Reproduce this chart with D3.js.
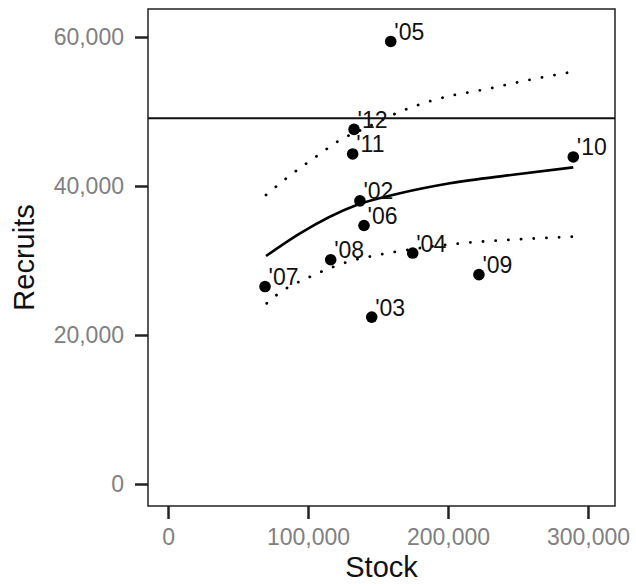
<!DOCTYPE html>
<html>
<head>
<meta charset="utf-8">
<script src="https://cdn.jsdelivr.net/npm/d3@7"></script>
<style>
body { margin: 0; background: #fff; }
text { font-family: "Liberation Sans", Arial, sans-serif; }
</style>
</head>
<body>
<div id="cont"></div>
<script>
// data
var years = ["'02", "'03", "'04", "'05", "'06", "'07", "'08", "'09", "'10", "'11", "'12"];
var stock = [137100, 145500, 174800, 159100, 140000, 69300, 116200, 222100, 289500, 131900, 132900];
var recruits = [38000, 22400, 31000, 59400, 34700, 26500, 30100, 28100, 43900, 44300, 47600];

// fitted curve and bounds
var fitS = [70000, 94300, 134800, 165700, 201400, 245000, 289500];
var fitR = [30600, 33650, 37450, 39020, 40360, 41480, 42500];
var upperS = [70000, 84800, 107400, 122900, 140700, 165700, 191900, 230000, 257900, 288000];
var upperR = [38800, 41070, 44160, 46170, 47750, 49970, 51640, 53110, 54230, 55300];
var lowerS = [70500, 77600, 102600, 128800, 156600, 203800, 251400, 289500];
var lowerR = [24250, 25370, 27920, 29840, 30970, 32210, 32850, 33200];
var refLine = 49100;

var xTicks = [0, 100000, 200000, 300000];
var yTicks = [0, 20000, 40000, 60000];

var W = 636, H = 584;
var L = 148, R = 615, T = 9, B = 506;

var svg = d3.select("#cont").append("svg").attr("width", W).attr("height", H);

var x = d3.scaleLinear().domain([-14300, 319300]).range([L, R]);
var y = d3.scaleLinear().domain([-2953, 63758]).range([B, T]);
var fmt = d3.format(",");

// axes
var xAxis = svg.append("g").attr("transform", "translate(0," + B + ")")
	.call(d3.axisBottom(x).tickValues(xTicks).tickFormat(fmt).tickSize(13).tickPadding(10));
var yAxis = svg.append("g").attr("transform", "translate(" + L + ",0)")
	.call(d3.axisLeft(y).tickValues(yTicks).tickFormat(fmt).tickSize(13).tickPadding(11));
[xAxis, yAxis].forEach(function(a) {
	a.select(".domain").remove();
	a.selectAll(".tick line").attr("stroke", "#222").attr("stroke-width", 2.5);
	a.selectAll(".tick text").attr("fill", "#808080").style("font-size", "23px");
});

// panel border
svg.append("rect").attr("x", L).attr("y", T).attr("width", R - L).attr("height", B - T)
	.attr("fill", "none").attr("stroke", "#222").attr("stroke-width", 1.5);

// reference line
svg.append("line").attr("x1", L).attr("x2", R).attr("y1", y(refLine)).attr("y2", y(refLine))
	.attr("stroke", "#111").attr("stroke-width", 2);

var line = d3.line().x(function(d) { return x(d[0]); }).y(function(d) { return y(d[1]); })
	.curve(d3.curveMonotoneX);

svg.append("path").attr("d", line(d3.zip(fitS, fitR)))
	.attr("fill", "none").attr("stroke", "#000").attr("stroke-width", 2.6);

[d3.zip(upperS, upperR), d3.zip(lowerS, lowerR)].forEach(function(pts) {
	svg.append("path").attr("d", line(pts))
		.attr("fill", "none").attr("stroke", "#000").attr("stroke-width", 2.8)
		.attr("stroke-linecap", "round").attr("stroke-dasharray", "0.1,12.6");
});

// points and labels
var pts = years.map(function(yr, i) { return { yr: yr, s: stock[i], r: recruits[i] }; });

svg.selectAll("circle.pt").data(pts).enter().append("circle").attr("class", "pt")
	.attr("cx", function(d) { return x(d.s); }).attr("cy", function(d) { return y(d.r); })
	.attr("r", 5.8).attr("fill", "#000");

svg.selectAll("text.lab").data(pts).enter().append("text").attr("class", "lab")
	.attr("x", function(d) { return x(d.s) + 3.5; }).attr("y", function(d) { return y(d.r) - 1.5; })
	.style("font-size", "23px").attr("fill", "#111")
	.text(function(d) { return d.yr; });

// axis titles
svg.append("text").attr("x", (L + R) / 2 - 0).attr("y", 577).attr("text-anchor", "middle")
	.style("font-size", "29px").attr("fill", "#111").text("Stock");
svg.append("text").attr("transform", "translate(34," + ((T + B) / 2) + ") rotate(-90)")
	.attr("text-anchor", "middle").style("font-size", "29px").attr("fill", "#111").text("Recruits");
</script>
</body>
</html>
